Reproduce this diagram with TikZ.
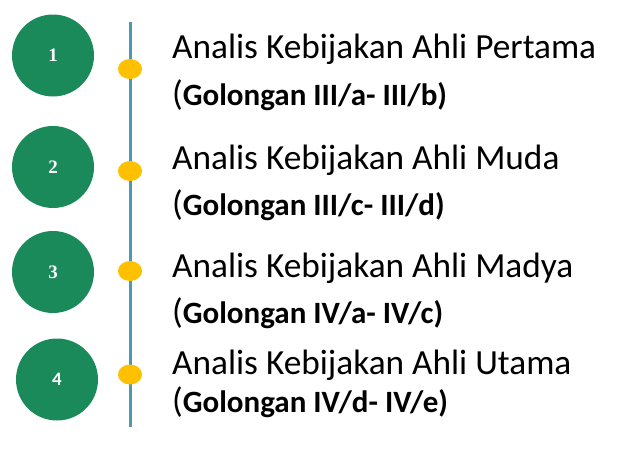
\documentclass[tikz,border=0pt]{standalone}
\usepackage{fontspec}
\setmainfont{Carlito}
\newfontfamily\numserif{Liberation Serif}
\usetikzlibrary{shapes.geometric,positioning}
\definecolor{lvgreen}{HTML}{1B8A5A}
\definecolor{lvteal}{HTML}{4A9BAE}
\definecolor{lvgold}{HTML}{FFC000}
\newcommand{\golfont}{\fontsize{31}{34}\selectfont\bfseries}

\begin{document}
\begin{tikzpicture}[
  x=1pt,y=-1pt,
  num/.style={circle,fill=lvgreen,minimum size=82pt,inner sep=0pt,text=white,
              font=\numserif\bfseries\fontsize{19}{19}\selectfont},
  dot/.style={ellipse,fill=lvgold,minimum width=24pt,minimum height=20pt,inner sep=0pt},
  title/.style={anchor=base west,inner sep=0pt,font=\fontsize{35.3}{40}\selectfont},
  grade/.style={anchor=base west,inner sep=0pt,font=\fontsize{35.3}{40}\selectfont},
  rail/.style={draw=lvteal,line width=3pt}
]
\useasboundingbox (0,0) rectangle (627,455);

% timeline
\coordinate (top) at (130,22);
\coordinate (bot) at (130,427);
\draw[rail] (top) -- (bot);

\node[num] (n1) at (53,55.5) {1};
\node[dot] (d1) at (130,69) {};
\node[title] (t1) at (172,58) {Analis Kebijakan Ahli Pertama};
\node[grade] (g1) at (172,105) {({\golfont Golongan III/a- III/b)}};

\node[num] (n2) at (53,167) {2};
\node[dot] (d2) at (130,171) {};
\node[title] (t2) at (172,169) {Analis Kebijakan Ahli Muda};
\node[grade] (g2) at (172,215) {({\golfont Golongan III/c- III/d)}};

\node[num] (n3) at (53,272) {3};
\node[dot] (d3) at (130,271) {};
\node[title] (t3) at (172,277) {Analis Kebijakan Ahli Madya};
\node[grade] (g3) at (172,323) {({\golfont Golongan IV/a- IV/c)}};

\node[num,font=\bfseries\fontsize{19}{19}\selectfont] (n4) at (57,379.5) {4};
\node[dot] (d4) at (130,374.5) {};
\node[title] (t4) at (172,374) {Analis Kebijakan Ahli Utama};
\node[grade] (g4) at (172,412) {({\golfont Golongan IV/d- IV/e)}};
\end{tikzpicture}
\end{document}
